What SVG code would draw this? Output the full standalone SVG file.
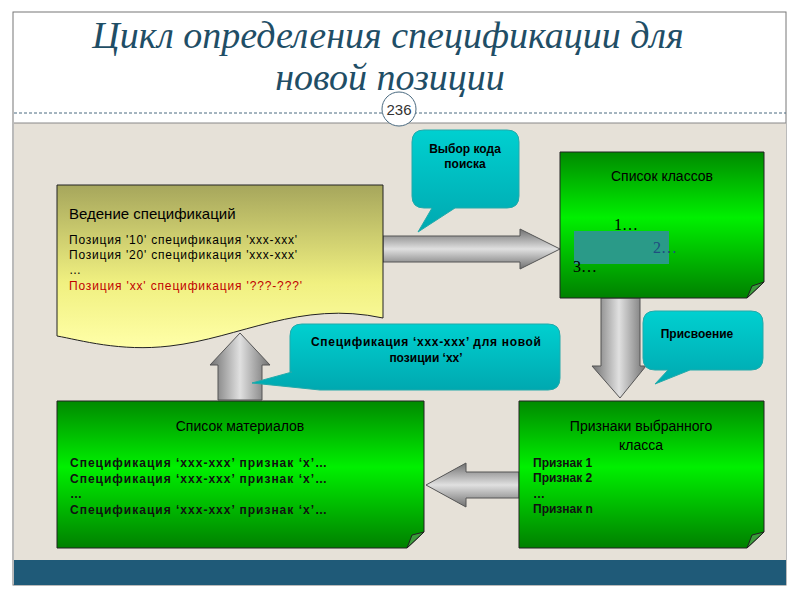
<svg xmlns="http://www.w3.org/2000/svg" width="800" height="600" viewBox="0 0 800 600">
<defs>
<linearGradient id="g" x1="0" y1="0" x2="0" y2="1"><stop offset="0" stop-color="#008a00"/><stop offset="0.45" stop-color="#00f000"/><stop offset="1" stop-color="#008000"/></linearGradient>
<linearGradient id="y" x1="0" y1="0" x2="0" y2="1"><stop offset="0" stop-color="#a6a65c"/><stop offset="0.6" stop-color="#f0f080"/><stop offset="1" stop-color="#ffffa8"/></linearGradient>
<linearGradient id="ah" x1="0" y1="0" x2="0" y2="1"><stop offset="0" stop-color="#707070"/><stop offset="0.5" stop-color="#e0e0e0"/><stop offset="1" stop-color="#707070"/></linearGradient>
<linearGradient id="av" x1="0" y1="0" x2="1" y2="0"><stop offset="0" stop-color="#707070"/><stop offset="0.5" stop-color="#e0e0e0"/><stop offset="1" stop-color="#707070"/></linearGradient>
<linearGradient id="c" x1="0" y1="0" x2="0" y2="1"><stop offset="0" stop-color="#00d0d0"/><stop offset="1" stop-color="#00a8b0"/></linearGradient>
</defs>
<style>
.t{font-family:"Liberation Sans",Arial,sans-serif}
.s{font-family:"Liberation Serif","Times New Roman",serif}
.box{stroke:#222;stroke-width:1}
.arr{stroke:#555;stroke-width:1}
.cl{fill:url(#c);stroke:#2aa;stroke-width:1}
.fold{fill:#3c9c3c;stroke:#222;stroke-width:1}
</style>
<rect width="800" height="600" fill="#fff"/>
<rect x="13" y="12" width="773" height="573" fill="none" stroke="#777"/>
<rect x="14" y="123" width="772" height="437" fill="#e6e1d8"/>
<line x1="14" y1="113" x2="786" y2="113" stroke="#4a6a80" stroke-dasharray="3,2"/>
<line x1="14" y1="123" x2="786" y2="123" stroke="#888"/>
<rect x="14" y="560" width="772" height="25" fill="#1f5a78"/>
<text class="s" x="388" y="48" text-anchor="middle" font-style="italic" font-size="38" fill="#1f4e66">Цикл определения спецификации для</text>
<text class="s" x="390" y="90" text-anchor="middle" font-style="italic" font-size="38" fill="#1f4e66">новой позиции</text>
<circle cx="399" cy="109" r="17" fill="#fff" stroke="#4a6a80"/>
<text class="t" x="399" y="115" text-anchor="middle" font-size="15" fill="#333">236</text>

<g id="connectors">
<path class="arr" fill="url(#ah)" d="M383,236 H520 V229 L560,249 L520,269 V262 H383 Z"/>
<path class="arr" fill="url(#av)" d="M601,298 H640 V366 H646 L620,398 L592,366 H601 Z"/>
<path class="arr" fill="url(#ah)" d="M519,472 H466 V463 L426,485 L466,507 V498 H519 Z"/>
<path class="arr" fill="url(#av)" d="M218,400 V365 H210 L240,333 L270,365 H262 V400 Z"/>
</g>

<g id="ved">
<path class="box" fill="url(#y)" d="M57,185 H383 V318 C300,300 240,338 170,346 C120,352 80,340 57,336 Z"/>
<text class="t" x="69" y="219" font-size="15">Ведение спецификаций</text>
<g class="t" font-size="12">
<text x="69" y="244" textLength="228" lengthAdjust="spacing">Позиция  '10' спецификация   'xxx-xxx'</text>
<text x="69" y="259" textLength="228" lengthAdjust="spacing">Позиция  '20' спецификация   'xxx-xxx'</text>
<text x="69" y="274">…</text>
<text x="69" y="290" fill="#c00000" textLength="233" lengthAdjust="spacing">Позиция  'xx' спецификация   '???-???'</text>
</g>
</g>

<g id="classes">
<path class="box" fill="url(#g)" d="M560,152 H764 V282 L747,298 H560 Z"/>
<path class="fold" d="M747,298 L752,286 L764,282 Z"/>
<text class="t" x="662" y="181" text-anchor="middle" font-size="14">Список классов</text>
<rect x="574" y="231" width="95" height="33" fill="#2a9a88"/>
<text class="s" x="614" y="230" font-size="16">1…</text>
<text class="s" x="653" y="253" font-size="16" fill="#1f4e80">2…</text>
<text class="s" x="573" y="272" font-size="16">3…</text>
</g>

<g id="materials">
<path class="box" fill="url(#g)" d="M57,401 H424 V532 L407,548 H57 Z"/>
<path class="fold" d="M407,548 L412,535 L424,532 Z"/>
<text class="t" x="240" y="431" text-anchor="middle" font-size="14">Список материалов</text>
<g class="t" font-size="12" font-weight="bold" fill="#111">
<text x="70" y="467" textLength="257" lengthAdjust="spacing">Спецификация ‘xxx-xxx’  признак ‘x’…</text>
<text x="70" y="483" textLength="257" lengthAdjust="spacing">Спецификация ‘xxx-xxx’  признак ‘x’…</text>
<text x="70" y="498">…</text>
<text x="70" y="514" textLength="257" lengthAdjust="spacing">Спецификация ‘xxx-xxx’  признак ‘x’…</text>
</g>
</g>

<g id="attrs">
<path class="box" fill="url(#g)" d="M519,401 H764 V532 L747,548 H519 Z"/>
<path class="fold" d="M747,548 L752,535 L764,532 Z"/>
<text class="t" x="641" y="431" text-anchor="middle" font-size="14">Признаки выбранного</text>
<text class="t" x="641" y="450" text-anchor="middle" font-size="14">класса</text>
<g class="t" font-size="12" font-weight="bold" fill="#111">
<text x="533" y="467">Признак 1</text>
<text x="533" y="482">Признак 2</text>
<text x="533" y="498">…</text>
<text x="533" y="513">Признак n</text>
</g>
</g>

<g id="callout1">
<path class="cl" d="M424,130 H507 Q519,130 519,142 V196 Q519,208 507,208 H455 L418,232 L432,208 H424 Q412,208 412,196 V142 Q412,130 424,130 Z"/>
<text class="t" x="465" y="153" text-anchor="middle" font-size="12" font-weight="bold">Выбор кода</text>
<text class="t" x="465" y="168" text-anchor="middle" font-size="12" font-weight="bold">поиска</text>
</g>

<g id="callout2">
<path class="cl" d="M302,324 H548 Q560,324 560,336 V378 Q560,390 548,390 H320 L252,383 L292,372 L290,372 V336 Q290,324 302,324 Z"/>
<text class="t" x="426" y="346" text-anchor="middle" font-size="12" font-weight="bold" textLength="230" lengthAdjust="spacing">Спецификация ‘xxx-xxx’ для новой</text>
<text class="t" x="426" y="362" text-anchor="middle" font-size="12" font-weight="bold">позиции ‘xx’</text>
</g>

<g id="callout3">
<path class="cl" d="M655,311 H751 Q763,311 763,323 V358 Q763,370 751,370 H690 L655,384 L668,370 H655 Q643,370 643,358 V323 Q643,311 655,311 Z"/>
<text class="t" x="697" y="338" text-anchor="middle" font-size="12" font-weight="bold">Присвоение</text>
</g>
</svg>
